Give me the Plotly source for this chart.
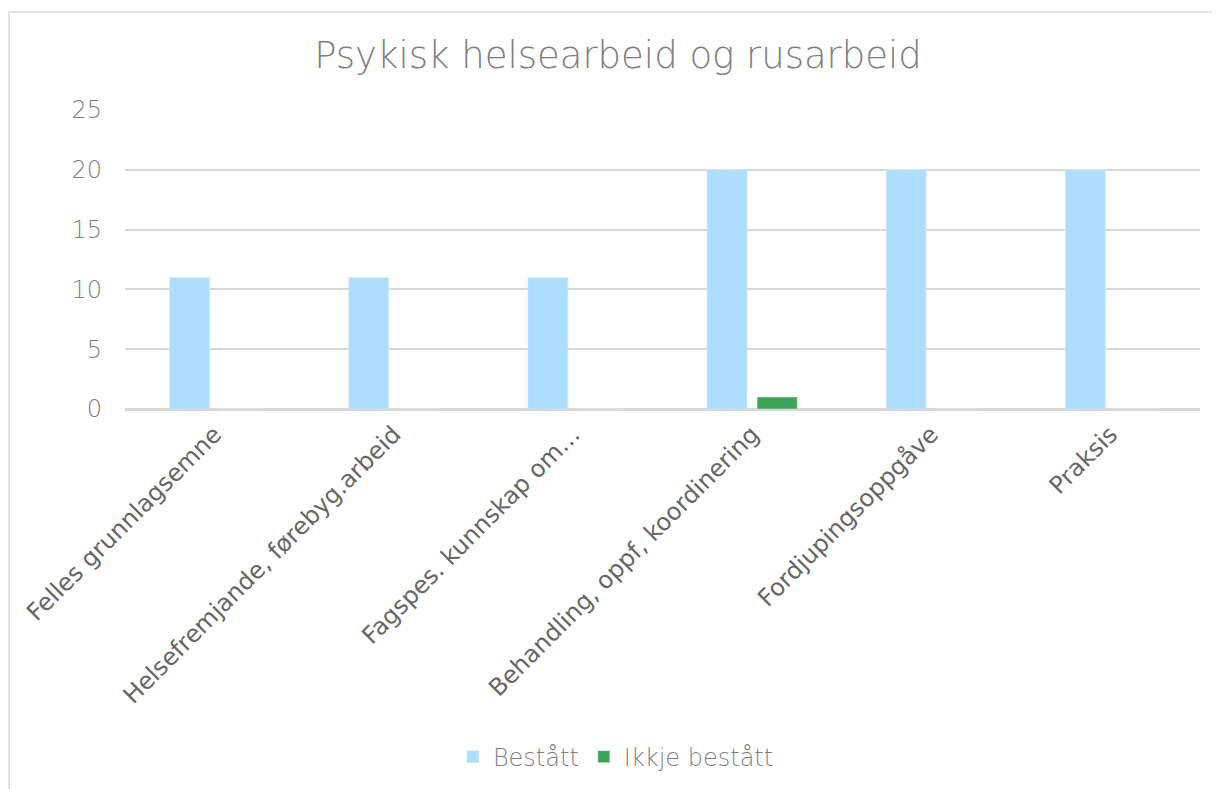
import plotly.graph_objects as go

kategoriar = [
    "Felles grunnlagsemne",
    "Helsefremjande, førebyg.arbeid",
    "Fagspes. kunnskap om…",
    "Behandling, oppf, koordinering",
    "Fordjupingsoppgåve",
    "Praksis",
]
bestatt = [11, 11, 11, 20, 20, 20]
ikkje_bestatt = [0, 0, 0, 1, 0, 0]

tynn = dict(family="DejaVu Sans", weight=200, color="#7f7f7f")

fig = go.Figure()
fig.add_trace(go.Bar(x=kategoriar, y=bestatt, name="Bestått", marker_color="#ADDEFF"))
fig.add_trace(go.Bar(x=kategoriar, y=ikkje_bestatt, name="Ikkje bestått", marker_color="#3AA655"))

# ramme rundt diagrammet (berre venstre og topp synleg)
fig.add_shape(type="rect", xref="paper", yref="paper",
              x0=-0.1079, x1=1.2, y0=-1.6, y1=1.3278,
              line=dict(color="#d9d9d9", width=1.5), layer="below")

fig.update_layout(
    width=1220, height=789,
    margin=dict(l=117, r=28, t=102, b=388),
    paper_bgcolor="white", plot_bgcolor="white",
    title=dict(text="Psykisk helsearbeid og rusarbeid", x=0.5, xanchor="center",
               y=0.941, yanchor="middle",
               font=dict(tynn, size=37)),
    barmode="group", bargap=0.44, bargroupgap=0.2,
    legend=dict(orientation="h", x=0.305, xanchor="left", y=-1.164, yanchor="middle",
                font=dict(tynn, size=24),
                itemwidth=30),
    font=dict(family="DejaVu Sans"),
)
fig.update_xaxes(tickangle=-45, tickfont=dict(family="DejaVu Sans", size=24, color="#666666"),
                 showline=True, linecolor="#d9d9d9", linewidth=1.5, ticks="")
fig.update_yaxes(range=[0, 25], dtick=5, gridcolor="#d9d9d9", gridwidth=1.5,
                 zeroline=True, zerolinecolor="#d9d9d9", zerolinewidth=1.5,
                 tickfont=dict(tynn, size=24),
                 ticklabelstandoff=22)

fig.write_html("out.html")
